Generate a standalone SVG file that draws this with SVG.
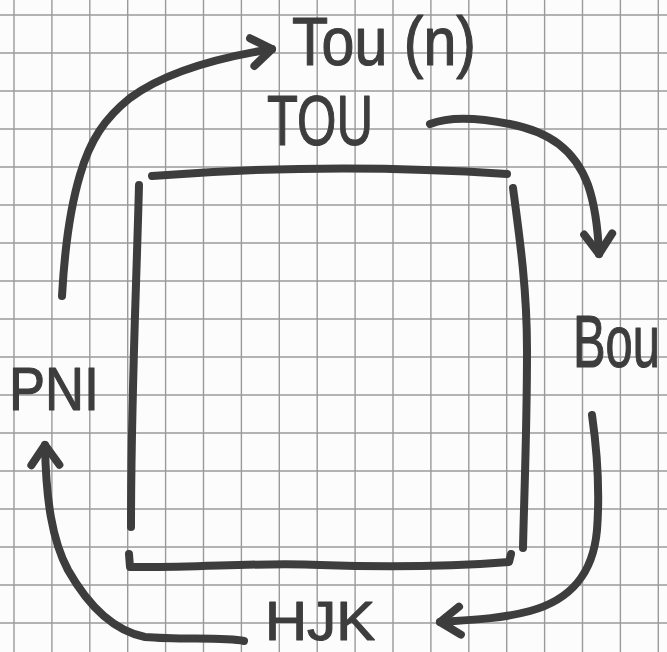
<svg xmlns="http://www.w3.org/2000/svg" width="667" height="652" viewBox="0 0 667 652">
<style>
.ink{fill:none;stroke:#3d3d3d;stroke-width:8;stroke-linecap:round;stroke-linejoin:round}
.lbl{font-family:"Liberation Sans","DejaVu Sans",sans-serif;fill:#3d3d3d;stroke:#3d3d3d;stroke-width:1.2;stroke-linejoin:round}
.grid{fill:none;stroke:#9a9a9a;stroke-width:1.4}
</style>
<defs>
<marker id="ah" markerUnits="userSpaceOnUse" viewBox="-30 -25 40 50" refX="0" refY="0" markerWidth="40" markerHeight="50" orient="auto" overflow="visible">
<path d="M-20,-14 L0,0 L-20,14" fill="none" stroke="#3d3d3d" stroke-width="8" stroke-linecap="round" stroke-linejoin="round"/>
</marker>
</defs>
<rect width="667" height="652" fill="#fcfcfc"/>
<path class="grid" d="M14,0V652M51.9,0V652M89.8,0V652M127.7,0V652M165.6,0V652M203.5,0V652M241.4,0V652M279.3,0V652M317.2,0V652M355.1,0V652M393,0V652M430.9,0V652M468.8,0V652M506.7,0V652M544.6,0V652M582.5,0V652M620.4,0V652M658.3,0V652M0,15H667M0,53H667M0,91H667M0,129H667M0,167H667M0,205H667M0,243H667M0,281H667M0,319H667M0,357H667M0,395H667M0,433H667M0,471H667M0,509H667M0,547H667M0,585H667M0,623H667"/>
<g id="square">
<path class="ink" d="M152,176 Q330,162 507,174"/>
<path class="ink" d="M139,185 C136,300 131,400 131,527"/>
<path class="ink" d="M129,554 L130,567 C200,568 260,562 320,565 C400,568 470,565 509,562 L511,554"/>
<path class="ink" d="M513,188 C520,240 527,290 527,350 C527,430 524,500 523,548"/>
</g>
<g id="node-toun"><text class="lbl" x="292" y="65" font-size="68" textLength="184" lengthAdjust="spacingAndGlyphs">Tou (n)</text></g>
<g id="node-tou"><text class="lbl" x="267" y="145" font-size="70" textLength="106" lengthAdjust="spacingAndGlyphs">TOU</text></g>
<g id="node-bou"><text class="lbl" transform="translate(573,367) scale(0.66,1)" x="0" y="0" font-size="74">Bou</text></g>
<g id="node-pni"><text class="lbl" x="9" y="410" font-size="62" textLength="90" lengthAdjust="spacingAndGlyphs">PNI</text></g>
<g id="node-hjk"><text class="lbl" x="265" y="640" font-size="56" textLength="110" lengthAdjust="spacingAndGlyphs">HJK</text></g>
<g id="connectors">
<path class="ink" marker-end="url(#ah)" d="M62,296 C64,260 68,215 80,175 C90,140 105,118 130,98 C165,72 215,58 272,49"/>
<path class="ink" marker-end="url(#ah)" d="M430,124 C450,116 480,118 510,124 C550,132 575,150 588,185 C596,208 598,230 599,254"/>
<path class="ink" marker-end="url(#ah)" d="M592,415 C597,450 600,490 597,530 C593,575 570,600 530,611 C500,619 470,620 440,622"/>
<path class="ink" marker-end="url(#ah)" d="M244,641 C225,637 180,640 145,637 C110,630 85,600 68,570 C52,540 46,500 45,445"/>
</g>
</svg>
